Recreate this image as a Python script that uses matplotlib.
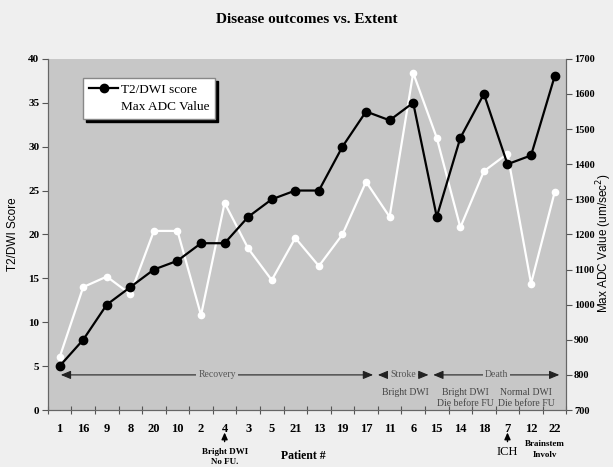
import numpy as np
import matplotlib
matplotlib.use("Agg")
import matplotlib.pyplot as plt
from matplotlib.lines import Line2D

patients = ["1", "16", "9", "8", "20", "10", "2", "4", "3", "5", "21",
            "13", "19", "17", "11", "6", "15", "14", "18", "7", "12", "22"]
t2_score = [5, 8, 12, 14, 16, 17, 19, 19, 22, 24, 25,
            25, 30, 34, 33, 35, 22, 31, 36, 28, 29, 38]
max_adc = [850, 1050, 1080, 1030, 1210, 1210, 970, 1290, 1160, 1070, 1190,
           1110, 1200, 1350, 1250, 1660, 1475, 1220, 1380, 1430, 1060, 1320]

# outcome groups: (label, start, end) in category index units
groups = [("Recovery", 0.05, 13.3), ("Stroke", 13.5, 15.65), ("Death", 15.85, 21.2)]

serif = "Liberation Serif"
sans = "Liberation Sans"
bg = "#efefef"
face = "#c7c7c7"

fig = plt.figure(figsize=(6.13, 4.67), dpi=100, facecolor=bg)
ax = fig.add_axes([0.078, 0.122, 0.846, 0.752])
ax2 = ax.twinx()
ax2.patch.set_visible(True)
ax2.set_facecolor(face)
ax.set_zorder(ax2.get_zorder() + 1)
ax.patch.set_visible(False)

x = np.arange(len(patients))
ax2.plot(x, max_adc, color="white", lw=1.6, marker="o", ms=4.5, zorder=3)
ax.plot(x, t2_score, color="black", lw=1.6, marker="o", ms=6, zorder=4)

ax.set_xlim(-0.5, len(patients) - 0.5)
ax.set_ylim(0, 40)
ax2.set_ylim(700, 1700)
ax.set_yticks(range(0, 41, 5))
ax2.set_yticks(range(700, 1701, 100))

ax.set_xticks(np.arange(-0.5, len(patients), 1))
ax.set_xticklabels([])
ax.set_xticks(x, minor=True)
ax.set_xticklabels(patients, minor=True, fontfamily=serif, fontweight="bold", fontsize=9)
ax.tick_params(axis="x", which="minor", length=0, pad=9)
ax.tick_params(axis="x", which="major", direction="inout", length=6, color="#555555")
ax.tick_params(axis="y", direction="out", length=4, color="#555555", pad=2)
ax2.tick_params(axis="y", direction="out", length=4, color="#555555", pad=1.5)
for lab in ax.get_yticklabels():
    lab.set_fontfamily(serif)
    lab.set_fontweight("bold")
    lab.set_fontsize(8)
for lab in ax2.get_yticklabels():
    lab.set_fontfamily(serif)
    lab.set_fontweight("bold")
    lab.set_fontsize(7.5)

for a in (ax, ax2):
    for s in a.spines.values():
        s.set_color("#666666")
        s.set_linewidth(0.8)
    a.spines["top"].set_visible(False)

ax.set_ylabel("T2/DWI Score", fontfamily=sans, fontsize=8.5)
ax.yaxis.set_label_coords(-0.055, 0.5)
ax2.set_ylabel("Max ADC Value (um/sec$^2$)", fontfamily=sans, fontsize=8.5, rotation=90)
ax2.yaxis.set_label_coords(1.054, 0.476)

fig.text(0.5, 0.958, "Disease outcomes vs. Extent", ha="center", va="center",
         fontfamily=serif, fontweight="bold", fontsize=11)

# outcome arrows
for label, x0, x1 in groups:
    ax.annotate("", xy=(x1, 4), xytext=(x0, 4),
                arrowprops=dict(arrowstyle="<|-|>,head_length=0.6,head_width=0.25",
                                color="#222222", lw=0.8, shrinkA=0, shrinkB=0))
    ax.text((x0 + x1) / 2, 4, label, ha="center", va="center", fontfamily=serif,
            fontsize=7, color="#555555",
            bbox=dict(facecolor=face, edgecolor="none", pad=1.5))

notes = [(14.65, "Bright DWI"), (17.2, "Bright DWI\nDie before FU"),
         (19.8, "Normal DWI\nDie before FU")]
for nx, txt in notes:
    ax.text(nx, 2.55, txt, ha="center", va="top", fontfamily=serif, fontsize=7,
            color="#444444", linespacing=1.3)

# annotations under the axis
tr = ax.get_xaxis_transform()
for ix in (7, 19):
    ax.annotate("", xy=(ix, -0.064), xytext=(ix, -0.09), xycoords=tr, textcoords=tr,
                arrowprops=dict(arrowstyle="-|>,head_length=0.4,head_width=0.18",
                                color="black", lw=1.0, shrinkA=0, shrinkB=0),
                annotation_clip=False)
ax.text(7, -0.134, "Bright DWI\nNo FU.", transform=tr, ha="center", va="center",
        fontfamily=serif, fontweight="bold", fontsize=6.5, linespacing=1.25)
ax.text(19, -0.119, "ICH", transform=tr, ha="center", va="center",
        fontfamily=serif, fontsize=9)
ax.text(20.6, -0.1125, "Brainstem\nInvolv", transform=tr, ha="center", va="center",
        fontfamily=serif, fontweight="bold", fontsize=6.5, linespacing=1.5)
ax.text(10.33, -0.13, "Patient #", transform=tr, ha="center", va="center",
        fontfamily=serif, fontweight="bold", fontsize=8.5)

# legend
h_black = Line2D([], [], color="black", lw=1.6, marker="o", ms=6)
h_white = Line2D([], [], color="white", lw=1.6, marker="o", ms=4.5)
leg = ax.legend([h_black, h_white], ["T2/DWI score", "Max ADC Value"],
                loc="upper left", bbox_to_anchor=(0.068, 0.946), borderaxespad=0,
                prop=dict(family=serif, size=9.5), frameon=True, fancybox=False,
                shadow=dict(color="black", alpha=1, ox=2, oy=-2), borderpad=0.45,
                handlelength=2.2, handletextpad=0.2, labelspacing=0.35)
leg.get_frame().set_facecolor("white")
leg.get_frame().set_edgecolor("#888888")
leg.get_frame().set_alpha(1)

fig.savefig("out.png", dpi=100, facecolor=bg)
